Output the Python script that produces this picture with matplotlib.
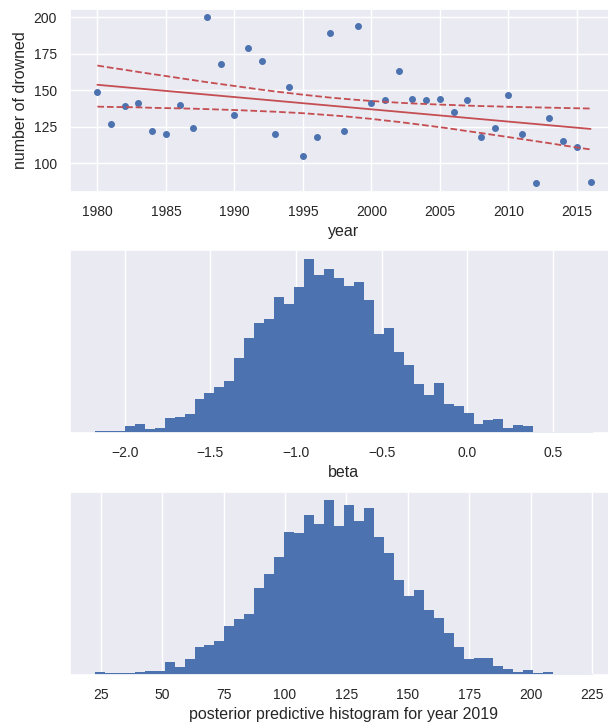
import matplotlib
matplotlib.use("Agg")
import matplotlib.pyplot as plt
import seaborn as sns
import numpy as np

sns.set_theme()
plt.rcParams['font.family'] = ['Liberation Sans', 'DejaVu Sans']

# observed data
years = list(range(1980, 2017))
drowned = [149, 127, 139, 141, 122, 120, 140, 124, 200, 168,
           133, 179, 170, 120, 152, 105, 118, 189, 122, 194,
           141, 143, 163, 144, 143, 144, 135, 143, 118, 124,
           147, 120, 86, 131, 115, 111, 87]

# posterior mean fit (centered at 1998) and 95% band
alpha_mean = 138.55
beta_mean = -0.842
band_upper = [166.9, 165.4, 164.0, 162.5, 161.1, 159.7, 158.3, 156.9, 155.5, 154.2,
              152.9, 151.6, 150.3, 149.1, 148.0, 146.9, 145.9, 144.9, 144.1, 143.3,
              142.6, 142.0, 141.4, 140.9, 140.5, 140.1, 139.8, 139.4, 139.1, 138.9,
              138.6, 138.4, 138.2, 138.0, 137.8, 137.6, 137.4]
band_lower = [138.7, 138.5, 138.4, 138.2, 137.9, 137.7, 137.5, 137.3, 137.0, 136.7,
              136.4, 136.0, 135.6, 135.2, 134.7, 134.2, 133.5, 132.8, 132.1, 131.2,
              130.3, 129.2, 128.2, 127.0, 125.8, 124.6, 123.3, 121.9, 120.6, 119.2,
              117.8, 116.4, 115.0, 113.6, 112.1, 110.7, 109.3]

# histogram of beta samples
beta_edges = np.linspace(-2.1745, 0.733, 51)
beta_counts = [2, 2, 2, 10, 12, 5, 7, 21, 23, 27,
               48, 57, 66, 74, 107, 136, 158, 164, 195, 185,
               210, 250, 226, 236, 223, 211, 217, 191, 142, 151,
               116, 97, 70, 54, 72, 41, 38, 28, 12, 18,
               20, 7, 11, 10, 1, 1, 1, 1, 1, 1]

# histogram of posterior predictive for 2019
pred_edges = np.linspace(22.66, 225.3, 51)
pred_counts = [4, 2, 2, 2, 4, 5, 5, 18, 11, 23,
               40, 43, 49, 70, 80, 87, 125, 145, 169, 205,
               203, 229, 216, 250, 213, 243, 221, 239, 198, 175,
               136, 113, 121, 93, 82, 60, 40, 23, 24, 24,
               13, 8, 4, 7, 2, 4, 1, 1, 1, 1]

fig = plt.figure(figsize=(6.08, 7.24), dpi=100)
ax1 = fig.add_axes([0.1151, 0.7352, 0.9013, 0.2523])
ax2 = fig.add_axes([0.1151, 0.4023, 0.9013, 0.2523])
ax3 = fig.add_axes([0.1151, 0.0681, 0.9013, 0.2528])

yrs = np.array(years)
ax1.plot(yrs, drowned, '.', color='#4C72B0', ms=8)
ax1.plot(yrs, alpha_mean + beta_mean * (yrs - 1998), '-', color='#C44E52', lw=1.3)
ax1.plot(yrs, band_upper, '--', color='#C44E52', lw=1.3)
ax1.plot(yrs, band_lower, '--', color='#C44E52', lw=1.3)
ax1.set_xlim(1978, 2018)
ax1.set_xlabel('year', fontsize=11.5)
ax1.set_ylabel('number of drowned', fontsize=11.5)

b_centers = (beta_edges[:-1] + beta_edges[1:]) / 2
ax2.hist(b_centers, bins=beta_edges, weights=beta_counts, color='#4C72B0',
         edgecolor='none', linewidth=0)
ax2.set_yticks([])
ax2.set_xlabel('beta', fontsize=11.5)

p_centers = (pred_edges[:-1] + pred_edges[1:]) / 2
ax3.hist(p_centers, bins=pred_edges, weights=pred_counts, color='#4C72B0',
         edgecolor='none', linewidth=0)
ax3.set_yticks([])
ax3.set_xticks([25, 50, 75, 100, 125, 150, 175, 200, 225])
ax3.set_xlabel('posterior predictive histogram for year 2019', fontsize=11.5)

for ax in (ax1, ax2, ax3):
    ax.tick_params(labelsize=10)

fig.savefig('out.png', dpi=100)
